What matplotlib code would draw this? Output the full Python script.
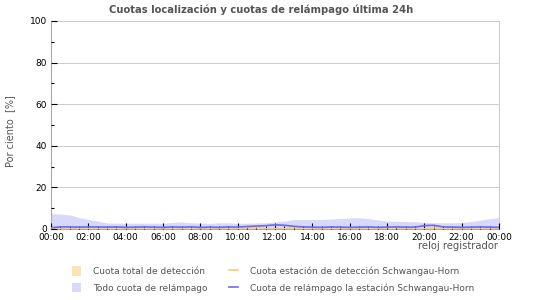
import numpy as np
import matplotlib
matplotlib.use("Agg")
import matplotlib.pyplot as plt
from matplotlib.patches import Patch
from matplotlib.lines import Line2D
from matplotlib.ticker import MultipleLocator, FixedLocator

# time in hours (30-min steps over the last 24 h)
hours = [i * 0.5 for i in range(49)]

todo_relampago = [7.4, 7.2, 6.8, 5.5, 4.6, 3.8, 2.9, 2.8, 2.8, 2.8,
                  2.8, 2.8, 2.8, 3.2, 3.4, 3.0, 2.8, 2.7, 3.0, 3.0,
                  2.7, 2.8, 2.9, 3.0, 3.4, 3.8, 4.5, 4.6, 4.5, 4.6,
                  4.8, 5.0, 5.3, 5.4, 5.0, 4.4, 3.8, 3.7, 3.6, 3.5,
                  3.2, 3.0, 3.0, 3.0, 3.1, 3.6, 4.2, 5.0, 5.4]

relampago_estacion = [0.6, 1.0, 1.0, 0.9, 1.0, 1.0, 0.9, 1.0, 0.8, 0.9,
                      1.0, 0.9, 0.8, 1.0, 0.9, 1.0, 0.8, 0.9, 0.8, 1.0,
                      0.9, 1.2, 1.4, 1.6, 2.0, 1.8, 1.3, 1.0, 0.9, 0.8,
                      1.0, 0.9, 0.8, 0.9, 1.0, 0.8, 0.9, 1.0, 0.9, 0.9,
                      1.6, 1.8, 1.0, 0.9, 0.8, 0.9, 1.0, 0.9, 0.8]

total_deteccion = [0.9, 0.3, 0.2, 0.2, 0.2, 0.2, 0.2, 0.2, 0.2, 0.2,
                   0.2, 0.2, 0.2, 0.2, 0.2, 0.2, 0.2, 0.2, 0.2, 0.2,
                   0.2, 1.0, 1.0, 0.3, 0.3, 0.3, 1.0, 0.3, 0.2, 0.2,
                   0.2, 0.9, 0.2, 0.2, 0.2, 0.2, 1.0, 1.0, 0.2, 0.2,
                   0.2, 1.0, 0.3, 0.2, 0.2, 0.2, 0.2, 0.9, 0.9]

deteccion_estacion = [0.5, 0.2, 0.1, 0.1, 0.1, 0.1, 0.1, 0.1, 0.1, 0.1,
                      0.1, 0.1, 0.1, 0.1, 0.1, 0.1, 0.1, 0.1, 0.1, 0.1,
                      0.1, 0.6, 0.6, 0.2, 0.2, 0.2, 0.6, 0.2, 0.1, 0.1,
                      0.1, 0.5, 0.1, 0.1, 0.1, 0.1, 0.6, 0.6, 0.1, 0.1,
                      0.1, 0.6, 0.2, 0.1, 0.1, 0.1, 0.1, 0.5, 0.5]

xtick_labels = ["00:00", "02:00", "04:00", "06:00", "08:00", "10:00", "12:00",
                "14:00", "16:00", "18:00", "20:00", "22:00", "00:00"]
yticks = [0, 20, 40, 60, 80, 100]

title = "Cuotas localización y cuotas de relámpago última 24h"
legend_labels = ["Cuota total de detección", "Todo cuota de relámpago",
                 "Cuota estación de detección Schwangau-Horn",
                 "Cuota de relámpago la estación Schwangau-Horn"]

c_lav = "#d8d8fb"
c_peach = "#fde2b4"
c_orange = "#ffcc66"
c_blue = "#6a6af5"
c_text = "#555555"

plt.rcParams['font.family'] = ['DejaVu Sans']
fig = plt.figure(figsize=(5.5, 3.0), dpi=100)
ax = fig.add_axes([51/550, 1-229/300, 448/550, 208/300])

ax.fill_between(hours, 0, todo_relampago, color=c_lav, linewidth=0, zorder=1)
ax.fill_between(hours, 0, total_deteccion, color=c_peach, linewidth=0, zorder=2)
ax.plot(hours, deteccion_estacion, color=c_orange, linewidth=1.0, zorder=3)
ax.plot(hours, relampago_estacion, color=c_blue, linewidth=1.2, zorder=4)

ax.set_xlim(0, 24)
ax.set_ylim(0, 100)
ax.set_xticks(np.arange(0, 25, 2))
ax.set_xticklabels(xtick_labels)
ax.xaxis.set_minor_locator(MultipleLocator(0.5))
ax.set_yticks(yticks)
ax.yaxis.set_minor_locator(FixedLocator([10, 30, 50, 70, 90]))
ax.tick_params(axis='both', which='major', direction='in', length=4, width=0.8,
               labelsize=6.5, colors='black', pad=3)
ax.tick_params(axis='both', which='minor', direction='in', length=2.2,
               width=0.8, color='black')
ax.set_axisbelow(False)
ax.grid(axis='y', which='major', color='#cccccc', linewidth=0.7)

for s in ['top', 'right']:
    ax.spines[s].set_color('#cccccc')
    ax.spines[s].set_linewidth(0.8)
ax.spines['left'].set_color('#aaaaaa')
ax.spines['bottom'].set_color('#aaaaaa')
ax.spines['left'].set_linewidth(0.8)
ax.spines['bottom'].set_linewidth(0.8)

fig.text(261/550, 1-10/300, title, ha='center', va='center', fontsize=7.2,
         fontweight='bold', color=c_text)
fig.text(10/550, 1-131/300, "Por ciento  [%]", rotation=90, ha='center',
         va='center', fontsize=7, color=c_text)
fig.text(498/550, 1-246/300, "reloj registrador", ha='right', va='center',
         fontsize=7.2, color=c_text)

handles = [Patch(facecolor=c_peach, edgecolor='none'),
           Patch(facecolor=c_lav, edgecolor='none'),
           Line2D([0], [0], color=c_orange, linewidth=1.2),
           Line2D([0], [0], color=c_blue, linewidth=1.2)]
leg = fig.legend(handles, legend_labels, ncol=2, loc='center left',
                 bbox_to_anchor=(64/550, 1-279.5/300), frameon=False,
                 fontsize=6.5, handlelength=1.0, handleheight=1.2,
                 columnspacing=2.4, handletextpad=1.3, labelspacing=0.75)
for t in leg.get_texts():
    t.set_color(c_text)

fig.savefig("out.png", dpi=100)
